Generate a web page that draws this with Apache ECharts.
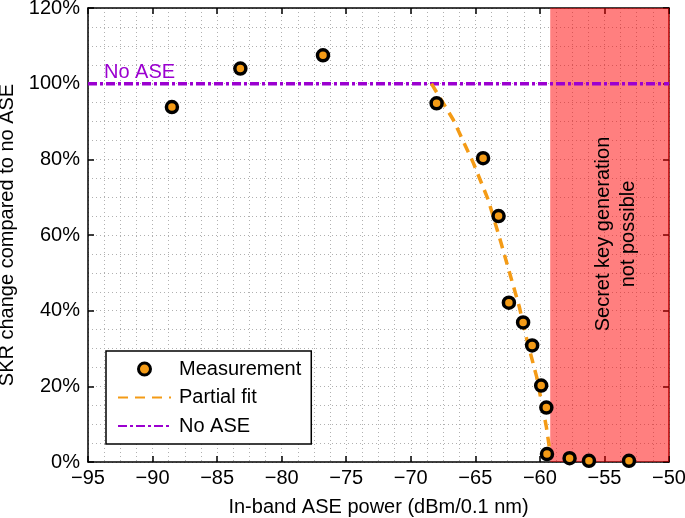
<!DOCTYPE html>
<html>
<head>
<meta charset="utf-8">
<script src="https://cdn.jsdelivr.net/npm/echarts@6/dist/echarts.min.js"></script>
<style>
html,body{margin:0;padding:0;background:#fff;}
#chart{width:685px;height:518px;}
</style>
</head>
<body>
<div id="chart"></div>
<script>
// ---- data ----
const measX = [-88.5, -83.2, -76.8, -68.0, -64.4, -63.2, -62.4, -61.3, -60.6, -59.9, -59.5, -59.45, -57.7, -56.2, -53.1];
const measY = [93.8, 104.0, 107.5, 94.8, 80.3, 65.0, 42.1, 36.9, 30.8, 20.2, 14.4, 2.1, 1.0, 0.3, 0.3];
const fitX = [-68.4, -66.7, -65.15, -64.0, -63.0, -61.6, -61.0, -60.25, -59.5, -59.2];
const fitY = [100, 90.4, 79.0, 69.3, 57.8, 41.1, 32.2, 22.5, 9.3, 2.3];
const noAseX = [-95, -50];
const noAseY = [100, 100];
const regionX = [-59.2, -50];
const xRange = [-95, -50];
const yRange = [0, 120];
const seriesNames = ['Measurement', 'Partial fit', 'No ASE'];
const regionText = 'Secret key generation\nnot possible';
const noAseLabel = 'No ASE';
const xTitle = 'In-band ASE power (dBm/0.1 nm)';
const yTitle = 'SKR change compared to no ASE';

const FONT = '"Liberation Sans", Arial, Helvetica, sans-serif';
const ORANGE = '#F49B16';
const PURPLE = '#9B00D0';
const FS = 20;

const zip = (a, b) => a.map((v, i) => [v, b[i]]);

const chart = echarts.init(document.getElementById('chart'), null, {renderer: 'canvas'});

const gridLine = {show: true, lineStyle: {type: [1, 3], color: '#b0b0b0', width: 1}};

const option = {
  animation: false,
  backgroundColor: '#fff',
  textStyle: {fontFamily: FONT},
  grid: {left: 88, right: 16, top: 8, bottom: 56, containLabel: false, outerBoundsMode: 'none'},
  xAxis: [{
    type: 'value', min: xRange[0], max: xRange[1], interval: 5,
    position: 'bottom',
    name: xTitle, nameLocation: 'middle', nameGap: 35,
    nameTextStyle: {fontSize: FS, color: '#000', fontFamily: FONT},
    axisLine: {show: true, onZero: false, lineStyle: {color: '#000', width: 1.5}},
    axisTick: {show: true, inside: true, length: 6, lineStyle: {color: '#000', width: 1.5}},
    axisLabel: {fontSize: FS, color: '#000', margin: 6, fontFamily: FONT,
      formatter: v => (v < 0 ? '\u2212' + Math.abs(v) : String(v))},
    splitLine: gridLine,
    minorTick: {show: false, splitNumber: 4},
    minorSplitLine: gridLine
  }, {
    type: 'value', min: xRange[0], max: xRange[1], interval: 5,
    position: 'top',
    axisLine: {show: true, onZero: false, lineStyle: {color: '#000', width: 1.5}},
    axisTick: {show: true, inside: true, length: 6, lineStyle: {color: '#000', width: 1.5}},
    axisLabel: {show: false},
    splitLine: {show: false}
  }],
  yAxis: [{
    type: 'value', min: yRange[0], max: yRange[1], interval: 20,
    position: 'left',
    name: yTitle, nameLocation: 'middle', nameGap: 67,
    nameTextStyle: {fontSize: FS, color: '#000', fontFamily: FONT},
    axisLine: {show: true, onZero: false, lineStyle: {color: '#000', width: 1.5}},
    axisTick: {show: true, inside: true, length: 6, lineStyle: {color: '#000', width: 1.5}},
    axisLabel: {fontSize: FS, color: '#000', margin: 8, fontFamily: FONT, formatter: '{value}%'},
    splitLine: gridLine,
    minorTick: {show: false, splitNumber: 4},
    minorSplitLine: gridLine
  }, {
    type: 'value', min: yRange[0], max: yRange[1], interval: 20,
    position: 'right',
    axisLine: {show: true, onZero: false, lineStyle: {color: '#800000', width: 1.5}},
    axisTick: {show: true, inside: true, length: 6, lineStyle: {color: '#000', width: 1.5}},
    axisLabel: {show: false},
    splitLine: {show: false}
  }],
  legend: {
    left: 106, top: 351, orient: 'vertical',
    data: [
      {name: seriesNames[0], itemStyle: {borderWidth: 3}},
      {name: seriesNames[1], itemStyle: {opacity: 0}},
      {name: seriesNames[2], itemStyle: {opacity: 0}}
    ],
    backgroundColor: '#fff',
    borderColor: '#000', borderWidth: 1.5, borderRadius: 0,
    padding: [8, 10, 8, 11],
    itemWidth: 53, itemHeight: 12, itemGap: 8.5,
    textStyle: {fontSize: FS, color: '#000', lineHeight: 20, fontFamily: FONT, padding: [0, 0, 0, 3]}
  },
  series: [
    {
      name: 'region', type: 'line', data: [], z: 3, silent: true,
      markArea: {
        silent: true,
        itemStyle: {color: 'rgba(255,0,0,0.5)'},
        data: [[{xAxis: regionX[0], yAxis: yRange[0]}, {xAxis: regionX[1], yAxis: yRange[1]}]]
      }
    },
    {
      name: seriesNames[2], type: 'line', data: zip(noAseX, noAseY), z: 4,
      symbol: 'none', color: PURPLE,
      lineStyle: {color: PURPLE, width: 3.5, type: [9, 3, 3, 3]}
    },
    {
      name: seriesNames[1], type: 'line', data: zip(fitX, fitY), z: 5,
      symbol: 'none', color: ORANGE, smooth: false,
      lineStyle: {color: ORANGE, width: 3.5, type: [10, 7]}
    },
    {
      name: seriesNames[0], type: 'scatter', data: zip(measX, measY), z: 6,
      symbol: 'circle', symbolSize: 11,
      itemStyle: {color: ORANGE, borderColor: '#000', borderWidth: 3.5, opacity: 1}
    }
  ],
  graphic: [
    {
      type: 'text', left: 104, top: 62, z: 10,
      style: {text: noAseLabel, fill: PURPLE, font: FS + 'px ' + FONT}
    },
    {
      type: 'text', x: 616, y: 234, rotation: Math.PI / 2, z: 10,
      style: {text: regionText, fill: '#000', font: FS + 'px ' + FONT,
        align: 'center', verticalAlign: 'middle', lineHeight: 25}
    }
  ]
};
chart.setOption(option);
</script>
</body>
</html>
